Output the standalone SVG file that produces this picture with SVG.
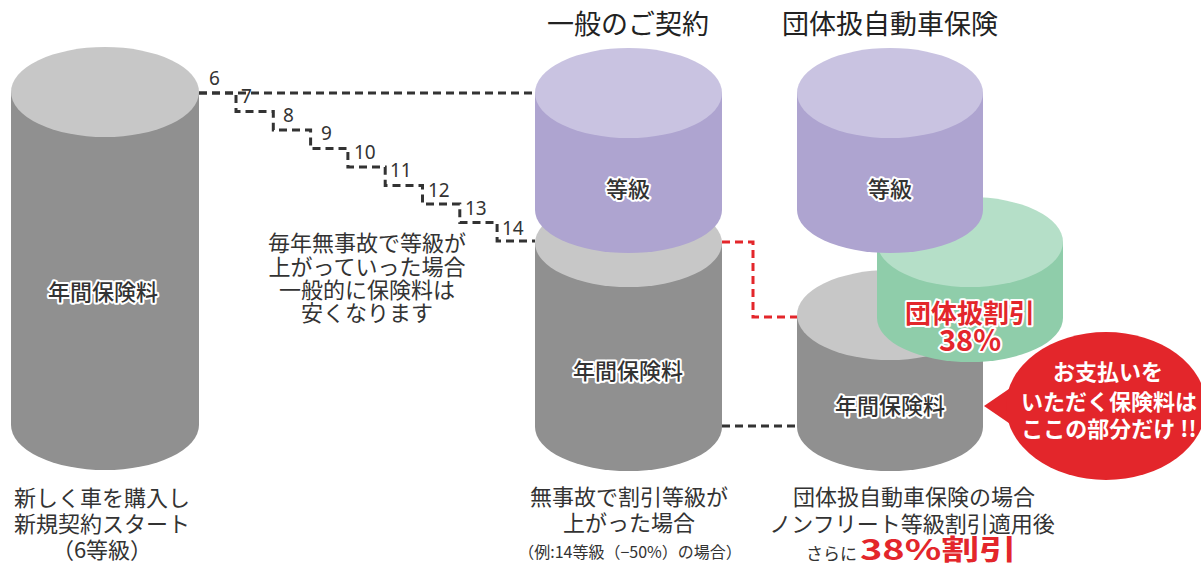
<svg xmlns="http://www.w3.org/2000/svg" width="1201" height="567" viewBox="0 0 1201 567">
<style>
text{font-family:"Noto Sans CJK JP","Noto Sans",sans-serif;}
.gb{fill:#909090}.gt{fill:#c7c7c7}
.pb{fill:#aea4d0}.pt{fill:#c9c3e1}
.eb{fill:#8fcdaa}.et{fill:#b5dfc8}
.lbl{font-size:22px;fill:#333;font-weight:500;stroke:#fff;stroke-width:4;stroke-linejoin:round;paint-order:stroke;text-anchor:middle}
.red{fill:#e3262b;font-weight:bold;stroke:#fff;stroke-width:4;stroke-linejoin:round;paint-order:stroke;text-anchor:middle}
.head{font-size:27px;fill:#222;text-anchor:middle}
.cap{font-size:22px;fill:#333;text-anchor:middle}
.note{font-size:22px;fill:#333;text-anchor:middle}
.num{font-family:"Noto Sans","Liberation Sans",sans-serif;font-size:19px;fill:#333}
.dash{fill:none;stroke:#333;stroke-width:3;stroke-dasharray:8 5}
.rdash{fill:none;stroke:#e3262b;stroke-width:3;stroke-dasharray:8 5}
.bub{font-size:22px;font-weight:bold;fill:#fff;text-anchor:middle}
</style>

<g id="connectors">
<path class="dash" d="M199,93 H535"/>
<path class="dash" d="M199,93 H236 V111.5 H273.3 V130 H310.6 V148.5 H347.9 V167 H385.2 V185.5 H422.5 V204 H459.8 V222.5 H497.1 V241 H535"/>
<path class="rdash" d="M722,242 H753 V317 H797"/>
<path class="dash" d="M722,426 H797"/>
</g>

<g id="step-labels">
<text class="num" x="209" y="85">6</text>
<text class="num" x="241" y="103">7</text>
<text class="num" x="283" y="122">8</text>
<text class="num" x="321" y="140">9</text>
<text class="num" x="354" y="159">10</text>
<text class="num" x="390" y="177">11</text>
<text class="num" x="428" y="197">12</text>
<text class="num" x="465" y="215">13</text>
<text class="num" x="502" y="235">14</text>
</g>

<g id="left-cylinder">
<path class="gb" d="M11,92 V425 A94,45 0 0 0 199,425 V92 Z"/>
<ellipse class="gt" cx="105" cy="92" rx="94" ry="45"/>
<text class="lbl" x="103" y="300">年間保険料</text>
</g>

<g id="step-note">
<text class="note" x="367" y="251">毎年無事故で等級が</text>
<text class="note" x="367" y="275">上がっていった場合</text>
<text class="note" x="367" y="298">一般的に保険料は</text>
<text class="note" x="367" y="321">安くなります</text>
</g>

<g id="general-contract">
<text class="head" x="628" y="34">一般のご契約</text>
<path class="gb" d="M535,243 V427 A93.5,44 0 0 0 722,427 V243 Z"/>
<ellipse class="gt" cx="628.5" cy="243" rx="93.5" ry="44"/>
<path class="pb" d="M535,93 V210 A93.5,43 0 0 0 722,210 V93 Z"/>
<ellipse class="pt" cx="628.5" cy="93" rx="93.5" ry="45"/>
<text class="lbl" x="628" y="197">等級</text>
<text class="lbl" x="628" y="379">年間保険料</text>
</g>

<g id="group-insurance">
<text class="head" x="890" y="34">団体扱自動車保険</text>
<path class="gb" d="M797,315 V427 A93,44 0 0 0 983,427 V315 Z"/>
<ellipse class="gt" cx="890" cy="315" rx="93" ry="45"/>
<text class="lbl" x="890" y="414">年間保険料</text>
<path class="eb" d="M877,242 V318 A93,44 0 0 0 1063,318 V242 Z"/>
<ellipse class="et" cx="970" cy="242" rx="93" ry="45"/>
<path class="pb" d="M797,93 V210 A93,43 0 0 0 983,210 V93 Z"/>
<ellipse class="pt" cx="890" cy="93" rx="93" ry="45"/>
<text class="lbl" x="890" y="197">等級</text>
<text class="red" x="970" y="323" style="font-size:26px">団体扱割引</text>
<text class="red" x="970" y="351" style="font-size:29px">38%</text>
</g>

<g id="bubble">
<path d="M1022,380 L984,406 L1022,432 Z" fill="#e3262b"/>
<ellipse cx="1106" cy="406" rx="100" ry="74" fill="#e3262b"/>
<text class="bub" x="1108" y="380">お支払いを</text>
<text class="bub" x="1109" y="410">いただく保険料は</text>
<text class="bub" x="1109" y="437">ここの部分だけ !!</text>
</g>

<g id="captions">
<text class="cap" x="102" y="506">新しく車を購入し</text>
<text class="cap" x="102" y="532">新規契約スタート</text>
<text class="cap" x="102" y="558">（6等級）</text>
<text class="cap" x="629" y="505">無事故で割引等級が</text>
<text class="cap" x="629" y="531">上がった場合</text>
<text class="cap" x="630" y="558" style="font-size:16px">（例:14等級（−50%）の場合）</text>
<text class="cap" x="914" y="505">団体扱自動車保険の場合</text>
<text class="cap" x="912" y="532">ノンフリート等級割引適用後</text>
<text x="806" y="560" style="font-size:17px;fill:#333">さらに</text>
<text x="860" y="560" textLength="157" lengthAdjust="spacingAndGlyphs" style="font-size:28px;font-weight:bold;fill:#e3262b">38%割引</text>
</g>
</svg>
